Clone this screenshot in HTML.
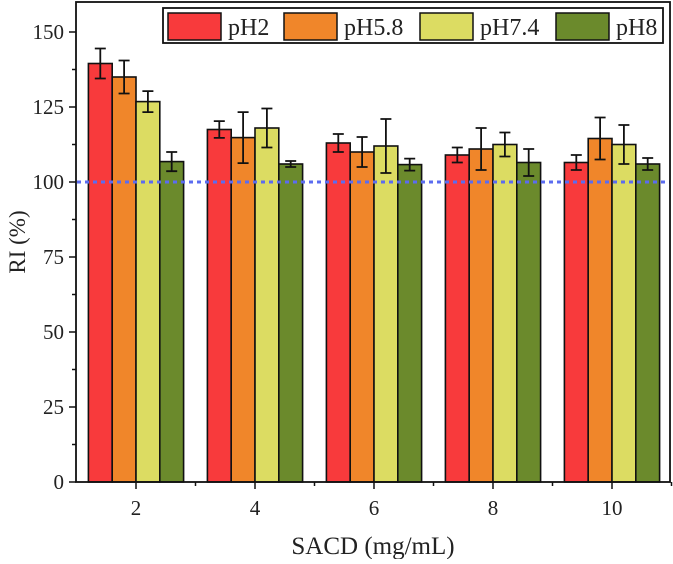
<!DOCTYPE html>
<html><head><meta charset="utf-8"><style>
body{margin:0;background:#fff}
svg text{font-family:"Liberation Serif",serif;fill:#222}
</style></head><body>
<svg id="chart" width="673" height="559"></svg>
<script>
const categories=[2,4,6,8,10];
const seriesNames=["pH2","pH5.8","pH7.4","pH8"];
const pH2=[139.5,117.5,113,109,106.5];
const pH58=[135,114.8,110,111,114.5];
const pH74=[126.8,118,112,112.5,112.5];
const pH8=[106.8,106,105.8,106.5,106];
const err2=[5,2.8,3,2.5,2.5];
const err58=[5.5,8.5,5,7,7];
const err74=[3.5,6.5,9,4,6.5];
const err8=[3.2,1,2,4.5,2];
const yTicks=[0,25,50,75,100,125,150];
const xTicks=[2,4,6,8,10];
const colors=["#f83a3c","#f0862a","#dcdc62","#6b8a2c"];
const NS="http://www.w3.org/2000/svg";
const svg=document.getElementById('chart');
const X=v=>76.5+(v-1)*59.5;
const Y=v=>482-v*3;
function el(t,a,p){const e=document.createElementNS(NS,t);for(const k in a)e.setAttribute(k,a[k]);(p||svg).appendChild(e);return e;}
const series=[pH2,pH58,pH74,pH8],errs=[err2,err58,err74,err8];
const bw=0.4;
series.forEach((s,si)=>{s.forEach((v,ci)=>{
 const x0=X(categories[ci]-0.8+si*bw);
 const r=el('rect',{x:x0,y:Y(v),width:bw*59.5,height:Y(0)-Y(v),fill:colors[si],stroke:'#111','stroke-width':1.6});
 
 
 const cx=x0+bw*59.5/2,e=errs[si][ci];
 const g=el('path',{d:`M${cx} ${Y(v+e)}V${Y(v-e)}M${cx-5.5} ${Y(v+e)}h11M${cx-5.5} ${Y(v-e)}h11`,stroke:'#111','stroke-width':1.8,fill:'none'});
 
 
});});
const ref=el('line',{x1:77,x2:670,y1:Y(100),y2:Y(100),stroke:'#5b6cf0','stroke-width':3,'stroke-dasharray':'4 4'});


const frame=el('rect',{x:76,y:2,width:594,height:480,fill:'none',stroke:'#111','stroke-width':1.8});


yTicks.forEach(t=>{
 el('line',{x1:69,x2:76,y1:Y(t),y2:Y(t),stroke:'#111','stroke-width':1.5});
 if(t<150)el('line',{x1:72,x2:76,y1:Y(t+12.5),y2:Y(t+12.5),stroke:'#111','stroke-width':1.5});
 const tx=el('text',{x:64,y:Y(t)+7,'text-anchor':'end','font-size':21});tx.textContent=t;
 
 
});
xTicks.forEach(t=>{
 el('line',{x1:X(t),x2:X(t),y1:482,y2:489,stroke:'#111','stroke-width':1.5});
 el('line',{x1:X(t+1),x2:X(t+1),y1:482,y2:486,stroke:'#111','stroke-width':1.5});
 const tx=el('text',{x:X(t),y:515,'text-anchor':'middle','font-size':21});tx.textContent=t;
 
 
});
const yt=el('text',{x:0,y:0,transform:'translate(25,242) rotate(-90)','text-anchor':'middle','font-size':23});yt.textContent='RI (%)';


const xt=el('text',{x:373,y:554,'text-anchor':'middle','font-size':25});xt.textContent='SACD (mg/mL)';


const lg=el('rect',{x:163,y:8,width:500,height:35,fill:'#fff',stroke:'#111','stroke-width':1.8});


const lx=[168,284,420,556];
seriesNames.forEach((n,i)=>{
 const sw=el('rect',{x:lx[i],y:13,width:53,height:27,fill:colors[i],stroke:'#111','stroke-width':1.5});
 
 
 const t=el('text',{x:lx[i]+60,y:35,'font-size':24});t.textContent=n;
 
 
});
</script>
</body></html>
